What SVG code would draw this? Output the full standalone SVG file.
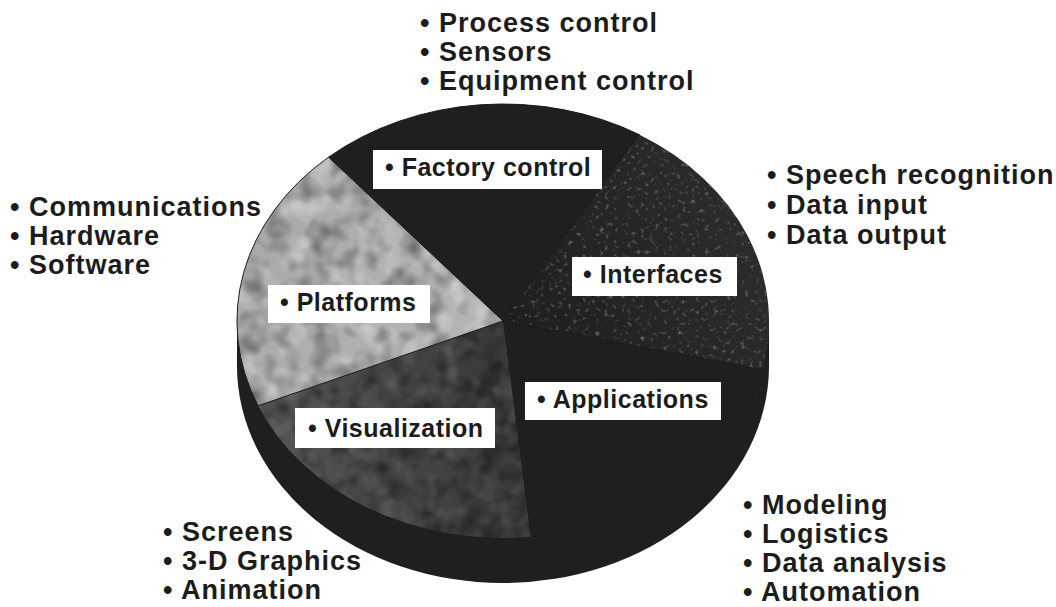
<svg xmlns="http://www.w3.org/2000/svg" width="1056" height="607" viewBox="0 0 1056 607">
  <defs>
    <style>
      .t { font-family: "Liberation Sans", Arial, sans-serif; font-weight: bold; fill: #1c1c1c; }
      .outer { font-size: 27px; letter-spacing: 1px; }
      .inner { font-size: 25px; letter-spacing: 0.5px; }
      .box { fill: #ffffff; }
      .edge { stroke: #1c1c1c; stroke-width: 1; stroke-linejoin: round; }
      .black { fill: #1f1f1f; }
    </style>
    <filter id="mottle" x="0" y="0" width="1" height="1" color-interpolation-filters="sRGB">
      <feTurbulence type="fractalNoise" baseFrequency="0.045" numOctaves="2" seed="4" result="n"/>
      <feColorMatrix in="n" type="matrix" values="0 0 0 0 0  0 0 0 0 0  0 0 0 0 0  0.9 0 0 0 -0.38" result="dark"/>
      <feComposite in="dark" in2="SourceAlpha" operator="in" result="darkIn"/>
      <feColorMatrix in="n" type="matrix" values="0 0 0 0 1  0 0 0 0 1  0 0 0 0 1  0 0.9 0 0 -0.4" result="light"/>
      <feComposite in="light" in2="SourceAlpha" operator="in" result="lightIn"/>
      <feMerge>
        <feMergeNode in="SourceGraphic"/>
        <feMergeNode in="darkIn"/>
        <feMergeNode in="lightIn"/>
      </feMerge>
    </filter>
    <filter id="mottleDark" x="0" y="0" width="1" height="1" color-interpolation-filters="sRGB">
      <feTurbulence type="fractalNoise" baseFrequency="0.05" numOctaves="2" seed="9" result="n"/>
      <feColorMatrix in="n" type="matrix" values="0 0 0 0 0  0 0 0 0 0  0 0 0 0 0  1.0 0 0 0 -0.4" result="dark"/>
      <feComposite in="dark" in2="SourceAlpha" operator="in" result="darkIn"/>
      <feColorMatrix in="n" type="matrix" values="0 0 0 0 0.6  0 0 0 0 0.6  0 0 0 0 0.6  0 0.7 0 0 -0.33" result="light"/>
      <feComposite in="light" in2="SourceAlpha" operator="in" result="lightIn"/>
      <feMerge>
        <feMergeNode in="SourceGraphic"/>
        <feMergeNode in="darkIn"/>
        <feMergeNode in="lightIn"/>
      </feMerge>
    </filter>
    <filter id="speckle" x="0" y="0" width="1" height="1" color-interpolation-filters="sRGB">
      <feTurbulence type="fractalNoise" baseFrequency="0.22" numOctaves="2" seed="7" result="n"/>
      <feColorMatrix in="n" type="matrix" values="0 0 0 0 0.45  0 0 0 0 0.45  0 0 0 0 0.45  3 0 0 0 -1.75" result="sp"/>
      <feComposite in="sp" in2="SourceAlpha" operator="in" result="spIn"/>
      <feMerge>
        <feMergeNode in="SourceGraphic"/>
        <feMergeNode in="spIn"/>
      </feMerge>
    </filter>
    <linearGradient id="gInterfaces" x1="520" y1="320" x2="760" y2="220" gradientUnits="userSpaceOnUse">
      <stop offset="0" stop-color="#1f1f1f"/>
      <stop offset="1" stop-color="#2c2c2c"/>
    </linearGradient>
    <linearGradient id="gVis" x1="270" y1="430" x2="530" y2="400" gradientUnits="userSpaceOnUse">
      <stop offset="0" stop-color="#555555"/>
      <stop offset="1" stop-color="#363636"/>
    </linearGradient>
    <linearGradient id="gPlat" x1="260" y1="250" x2="500" y2="330" gradientUnits="userSpaceOnUse">
      <stop offset="0" stop-color="#aaaaaa"/>
      <stop offset="1" stop-color="#b6b6b6"/>
    </linearGradient>
  </defs>
  <rect width="1056" height="607" fill="#ffffff"/>

  <g id="pie-rim">
    <ellipse class="black" cx="503" cy="366" rx="266" ry="217"/>
    <rect class="black" x="237" y="321" width="532" height="45"/>
  </g>

  <g id="slice-factory">
    <path class="black edge" d="M503,321 L328.5,157.2 A266,217 0 0 1 640,135 Z"/>
  </g>
  <g id="slice-interfaces">
    <path fill="url(#gInterfaces)" filter="url(#speckle)" d="M503,321 L640,135 A266,217 0 0 1 762.2,369.8 Z"/>
  </g>
  <g id="slice-applications">
    <path class="black edge" d="M503,321 L762.2,369.8 A266,217 0 0 1 530.8,536.8 Z"/>
  </g>
  <g id="slice-visualization">
    <path fill="url(#gVis)" filter="url(#mottleDark)" d="M503,321 L530.8,536.8 A266,217 0 0 1 258.1,405.8 Z"/>
  </g>
  <g id="slice-platforms">
    <path fill="url(#gPlat)" filter="url(#mottle)" d="M503,321 L258.1,405.8 A266,217 0 0 1 328.5,157.2 Z"/>
    <path fill="none" class="edge" d="M503,321 L258.1,405.8 A266,217 0 0 1 328.5,157.2 Z"/>
  </g>

  <g id="label-factory">
    <rect class="box" x="373" y="150" width="229" height="39"/>
    <text class="t inner" x="385" y="176">• Factory control</text>
  </g>
  <g id="label-interfaces">
    <rect class="box" x="572" y="257" width="165" height="39"/>
    <text class="t inner" x="583" y="283">• Interfaces</text>
  </g>
  <g id="label-platforms">
    <rect class="box" x="268" y="285" width="162" height="38"/>
    <text class="t inner" x="280" y="311">• Platforms</text>
  </g>
  <g id="label-applications">
    <rect class="box" x="525" y="382" width="196" height="38"/>
    <text class="t inner" x="537" y="408">• Applications</text>
  </g>
  <g id="label-visualization">
    <rect class="box" x="295" y="408" width="200" height="40"/>
    <text class="t inner" x="308" y="437">• Visualization</text>
  </g>

  <g id="list-factory">
    <text class="t outer" x="420" y="32">• Process control</text>
    <text class="t outer" x="420" y="61">• Sensors</text>
    <text class="t outer" x="420" y="90">• Equipment control</text>
  </g>
  <g id="list-interfaces">
    <text class="t outer" x="767" y="184">• Speech recognition</text>
    <text class="t outer" x="767" y="214">• Data input</text>
    <text class="t outer" x="767" y="244">• Data output</text>
  </g>
  <g id="list-platforms">
    <text class="t outer" x="10" y="216">• Communications</text>
    <text class="t outer" x="10" y="245">• Hardware</text>
    <text class="t outer" x="10" y="274">• Software</text>
  </g>
  <g id="list-visualization">
    <text class="t outer" x="163" y="541">• Screens</text>
    <text class="t outer" x="163" y="570">• 3-D Graphics</text>
    <text class="t outer" x="163" y="599">• Animation</text>
  </g>
  <g id="list-applications">
    <text class="t outer" x="743" y="514">• Modeling</text>
    <text class="t outer" x="743" y="543">• Logistics</text>
    <text class="t outer" x="743" y="572">• Data analysis</text>
    <text class="t outer" x="743" y="601">• Automation</text>
  </g>
</svg>
